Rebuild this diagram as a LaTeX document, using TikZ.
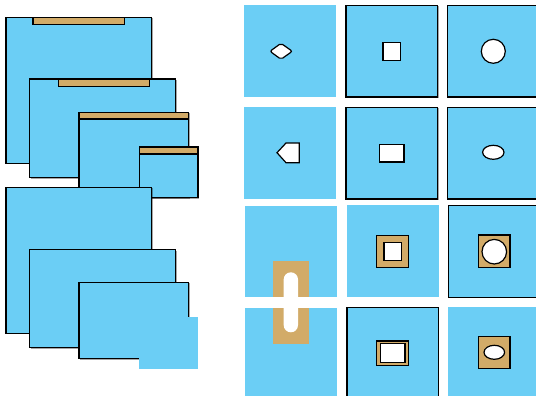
\documentclass[tikz,border=0pt]{standalone}
\usetikzlibrary{shadows}
\definecolor{cellblue}{HTML}{6BCEF5}
\definecolor{woodtan}{HTML}{D2AB68}
\begin{document}
\begin{tikzpicture}[x=1pt,y=-1pt,
  panel/.style={fill=cellblue, draw=black, line width=1.2pt,
    drop shadow={shadow xshift=0.9pt, shadow yshift=-0.9pt, opacity=0.35, fill=black}},
  plainpanel/.style={fill=cellblue},
  bar/.style={fill=woodtan, draw=black, line width=1.2pt},
  hole/.style={fill=white, draw=black, line width=1.2pt}]
\path[use as bounding box] (0,0) rectangle (536,396);
\clip (0,0) rectangle (536,396);

% ---------- left stack, top group ----------
\draw[panel] (6,17.3) coordinate (A) rectangle (151.7,163.3);
\draw[bar] (33,17.3) coordinate (tA) rectangle (124.3,24.3);
\draw[panel] (29.7,79) coordinate (B) rectangle (175.7,177.7);
\draw[bar] (58.3,79) coordinate (tB) rectangle (149.3,86.7);
\draw[panel] (79,112.3) coordinate (C) rectangle (188.7,197.7);
\draw[bar] (79,112.3) coordinate (tC) rectangle (188.7,119);
\draw[panel] (139.3,147) coordinate (E) rectangle (198,197.7);
\draw[bar] (139.3,147) coordinate (tE) rectangle (198,154);

% ---------- left stack, bottom group ----------
\draw[panel] (6,187.3) coordinate (D) rectangle (151.7,333.3);
\draw[panel] (29.7,249.7) coordinate (F) rectangle (175.7,347.7);
\draw[panel] (79,282.3) coordinate (G) rectangle (188.7,358.7);
\fill[plainpanel] (139,317) coordinate (H) rectangle (198,368.7);

% ---------- right grid ----------
% row 1
\fill[plainpanel] (244,5) coordinate (r1c1) rectangle (336,96.7);
\draw[panel] (346,5.3) coordinate (r1c2) rectangle (437.7,97);
\draw[panel] (447.7,5.3) coordinate (r1c3) rectangle (540,97);
% row 2
\fill[plainpanel] (244,107.3) coordinate (r2c1) rectangle (336,199);
\draw[panel] (346,107.3) coordinate (r2c2) rectangle (437.7,199);
\draw[panel] (447.7,107.3) coordinate (r2c3) rectangle (540,199);
% row 3
\fill[plainpanel] (245,206) coordinate (r3c1) rectangle (336.7,297);
\fill[plainpanel] (347,205) coordinate (r3c2) rectangle (439,296.7);
\draw[panel] (448.7,205.7) coordinate (r3c3) rectangle (541,297.3);
% row 4
\fill[plainpanel] (245,307.7) coordinate (r4c1) rectangle (336.7,400);
\draw[panel] (347,307.3) coordinate (r4c2) rectangle (438.3,401);
\fill[plainpanel] (448,306.7) coordinate (r4c3) rectangle (541,400);

% ---------- holes ----------
% row 1
\draw[hole, rounded corners=2pt] (270,51.3) -- (281,43.3) -- (292.3,51.3) -- (281,59.3) -- cycle;
\draw[hole] (383,42.3) rectangle (400.7,60.3);
\draw[hole] (493.3,51.3) circle (12);
% row 2
\draw[hole] (277,152.7) -- (286,143) -- (299.3,143) -- (299.3,162.7) -- (286,162.7) -- cycle;
\draw[hole] (379.3,144.3) rectangle (404,162);
\draw[hole] (493.3,152.3) ellipse (10.7 and 7);
% row 3 / 4 slot
\fill[woodtan] (272.7,261) coordinate (slot) rectangle (309,344);
\fill[white, rounded corners=7.1pt] (283.7,272.3) rectangle (298,332.3);
\fill[white] (272,297.2) rectangle (310,307.5);
% row 3
\draw[bar] (376.7,235.7) rectangle (408.7,267.7);
\draw[hole] (384,242.7) rectangle (401.7,260.7);
\draw[bar] (478.3,235) rectangle (510,267.7);
\draw[hole] (494.3,251.7) circle (12.3);
% row 4
\draw[bar] (376.7,341) rectangle (408.7,365.7);
\draw[hole] (380.3,343.7) rectangle (405,362.3);
\draw[bar] (478.3,336.7) rectangle (510,368.7);
\draw[hole] (494.3,352.3) ellipse (10.3 and 7);
\end{tikzpicture}
\end{document}
